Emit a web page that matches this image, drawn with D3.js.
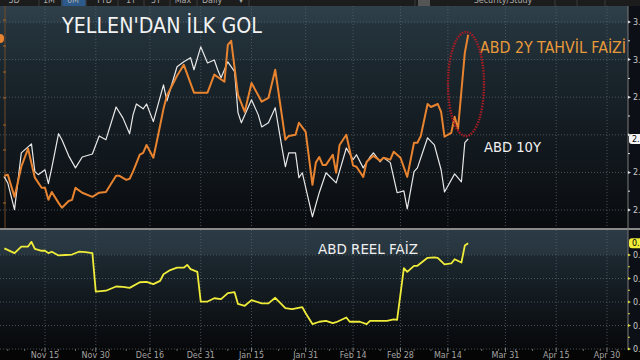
<!DOCTYPE html>
<html><head><meta charset="utf-8">
<script src="https://cdn.jsdelivr.net/npm/d3@7"></script>
<style>html,body{margin:0;padding:0;background:#000;overflow:hidden}</style>
</head><body><svg id="c" width="640" height="360"></svg>
<script>
// ---- data (MM-DD; Nov/Dec = 2016, others = 2017) ----
const tickDates  = ["11-15","11-30","12-16","12-31","01-15","01-31","02-14","02-28","03-14","03-31","04-15","04-30"];
const tickLabels = ["Nov 15","Nov 30","Dec 16","Dec 31","Jan 15","Jan 31","Feb 14","Feb 28","Mar 14","Mar 31","Apr 15","Apr 30"];
const topTicks = [2.6,2.7,2.8,2.9,3.0,3.1];
const topTickLabels = ["2.6","2.7","2.8","2.9","3.0","3.1"];
const botTicks = [0.45,0.50,0.55,0.60,0.65];
const botTickLabels = ["0.45","0.50","0.55","0.60","0.65"];

const tenYDates = ["11-03","11-04","11-06","11-08","11-11","11-12","11-13","11-15","11-16","11-17","11-19","11-20","11-22","11-24","11-26","11-29","12-01","12-03","12-06","12-08","12-10","12-11","12-12","12-14","12-15","12-17","12-20","12-21","12-24","12-26","12-28","12-29","12-31","01-02","01-04","01-05","01-06","01-08","01-10","01-11","01-12","01-15","01-17","01-18","01-20","01-22","01-24","01-25","01-26","01-28","01-29","01-30","02-02","02-04","02-06","02-09","02-12","02-14","02-15","02-17","02-19","02-20","02-22","02-23","02-25","02-27","03-01","03-02","03-04","03-05","03-08","03-10","03-12","03-13","03-16","03-18","03-19","03-20"];
const tenYValues = [2.688,2.672,2.601,2.752,2.776,2.702,2.694,2.707,2.670,2.712,2.803,2.787,2.744,2.712,2.741,2.749,2.797,2.787,2.874,2.845,2.803,2.853,2.882,2.869,2.882,2.835,2.933,2.890,2.981,2.994,3.005,2.973,3.034,2.991,2.999,2.973,2.952,2.994,2.968,2.859,2.832,2.893,2.853,2.821,2.832,2.872,2.765,2.715,2.752,2.752,2.686,2.699,2.582,2.646,2.699,2.672,2.765,2.734,2.747,2.712,2.741,2.752,2.728,2.739,2.726,2.646,2.651,2.603,2.702,2.712,2.792,2.773,2.707,2.648,2.696,2.675,2.779,2.789];

const twoYDates = ["11-03","11-04","11-06","11-08","11-10","11-12","11-14","11-15","11-16","11-17","11-19","11-20","11-22","11-23","11-24","11-26","11-29","12-01","12-03","12-06","12-07","12-09","12-10","12-11","12-13","12-14","12-15","12-17","12-18","12-20","12-21","12-24","12-26","12-29","12-30","01-02","01-04","01-07","01-08","01-09","01-11","01-13","01-15","01-18","01-20","01-22","01-25","01-26","01-28","01-29","01-31","02-02","02-03","02-04","02-05","02-06","02-08","02-09","02-10","02-12","02-14","02-15","02-17","02-18","02-20","02-22","02-23","02-25","02-26","02-28","03-02","03-04","03-05","03-06","03-08","03-09","03-11","03-12","03-13","03-15","03-16","03-17","03-19","03-20"];
const twoYValues = [2.691,2.694,2.635,2.715,2.763,2.686,2.659,2.659,2.627,2.648,2.619,2.606,2.624,2.627,2.659,2.646,2.635,2.646,2.648,2.691,2.691,2.680,2.683,2.702,2.747,2.752,2.773,2.739,2.781,2.869,2.904,2.957,2.986,2.912,2.912,2.912,2.960,2.941,3.039,3.050,2.906,2.861,2.938,2.888,2.898,2.973,2.787,2.797,2.800,2.832,2.808,2.667,2.726,2.741,2.720,2.720,2.747,2.699,2.773,2.800,2.718,2.715,2.688,2.728,2.744,2.731,2.739,2.734,2.755,2.739,2.688,2.779,2.779,2.797,2.882,2.874,2.882,2.861,2.795,2.805,2.848,2.816,3.018,3.066];

const realDates = ["11-03","11-06","11-08","11-10","11-11","11-12","11-14","11-15","11-16","11-17","11-19","11-21","11-23","11-25","11-27","11-29","11-30","12-03","12-06","12-08","12-10","12-13","12-15","12-17","12-19","12-20","12-22","12-24","12-26","12-27","12-28","12-30","12-31","01-02","01-04","01-06","01-08","01-10","01-11","01-13","01-15","01-18","01-20","01-22","01-25","01-27","01-30","01-31","02-02","02-04","02-06","02-08","02-09","02-12","02-13","02-16","02-18","02-19","02-22","02-24","02-26","02-27","03-01","03-02","03-04","03-05","03-08","03-10","03-11","03-13","03-15","03-16","03-18","03-19","03-20"];
const realValues = [0.664,0.654,0.668,0.668,0.678,0.663,0.659,0.659,0.654,0.657,0.649,0.650,0.651,0.657,0.656,0.654,0.572,0.574,0.583,0.582,0.580,0.592,0.593,0.588,0.595,0.609,0.618,0.623,0.623,0.629,0.620,0.614,0.551,0.551,0.558,0.556,0.569,0.571,0.546,0.542,0.554,0.547,0.547,0.559,0.537,0.535,0.539,0.526,0.503,0.508,0.510,0.505,0.507,0.517,0.508,0.508,0.503,0.510,0.510,0.510,0.513,0.512,0.622,0.614,0.627,0.627,0.644,0.645,0.644,0.630,0.632,0.641,0.634,0.670,0.675];

const toolbarTabs = ["5D","1M","6M","YTD","1Y","5Y","Max","Daily","\u25BE"];

// ---- helpers ----
const parseMD = s => { const [m,d] = s.split("-").map(Number); return new Date(Date.UTC(m >= 11 ? 2016 : 2017, m-1, d)); };
const zip = (ds, vs) => ds.map((d,i) => ({date: parseMD(d), v: vs[i]}));

const svg = d3.select("#c");
const FONT = "DejaVu Sans, Liberation Sans, sans-serif";

const x = d3.scaleUtc().domain([parseMD("11-15"), parseMD("04-30")]).range([45, 607]);
const yTop = d3.scaleLinear().domain([2.6, 3.1]).range([210, 22]);
const yBot = d3.scaleLinear().domain([0.45, 0.65]).range([349, 255]);

const P = {left: 0, right: 628, topY0: 6, topY1: 228, botY0: 230, botY1: 350};

const defs = svg.append("defs");
const g1 = defs.append("linearGradient").attr("id","gTop").attr("x1",0).attr("y1",0).attr("x2",0).attr("y2",1);
[[0,"#2f404a"],[0.07,"#2b3b45"],[0.08,"#24333c"],[0.24,"#1f2c34"],[0.25,"#1b272e"],[0.55,"#141c22"],[0.8,"#0e1317"],[1,"#090b0e"]]
  .forEach(s => g1.append("stop").attr("offset", s[0]).attr("stop-color", s[1]));
const g2 = defs.append("linearGradient").attr("id","gBot").attr("x1",0).attr("y1",0).attr("x2",0).attr("y2",1);
[[0,"#2b3a44"],[0.2,"#27353f"],[0.21,"#1c2830"],[0.5,"#141c22"],[1,"#07080a"]]
  .forEach(s => g2.append("stop").attr("offset", s[0]).attr("stop-color", s[1]));
defs.append("clipPath").attr("id","cTop").append("rect").attr("x",0).attr("y",P.topY0).attr("width",P.right).attr("height",P.topY1-P.topY0);
defs.append("clipPath").attr("id","cBot").append("rect").attr("x",0).attr("y",P.botY0).attr("width",P.right).attr("height",P.botY1-P.botY0);

// background
svg.append("rect").attr("width",640).attr("height",360).attr("fill","#050505");
svg.append("rect").attr("x",0).attr("y",P.topY0).attr("width",P.right).attr("height",P.topY1-P.topY0).attr("fill","url(#gTop)");
svg.append("rect").attr("x",0).attr("y",P.botY0).attr("width",P.right).attr("height",P.botY1-P.botY0).attr("fill","url(#gBot)");
svg.append("rect").attr("x",P.right).attr("y",P.topY0).attr("width",12).attr("height",P.botY1-P.topY0).attr("fill","#0c1016");

// toolbar
svg.append("rect").attr("x",0).attr("y",0).attr("width",640).attr("height",6).attr("fill","#1c1c1c");
svg.append("rect").attr("x",61).attr("y",0).attr("width",25).attr("height",6).attr("fill","#2d5a8c");
svg.append("rect").attr("x",418).attr("y",0).attr("width",12).attr("height",6).attr("fill","#555");
const tabX = [14,49,73,104,131,156,183,212,241];
[39,62,86,118,144,170,197,249,415,555,577,605].forEach(v => svg.append("line").attr("x1",v).attr("x2",v).attr("y1",0).attr("y2",6).attr("stroke","#3a3a3a"));
toolbarTabs.forEach((t,i) => svg.append("text").attr("x",tabX[i]).attr("y",2.5).attr("text-anchor","middle").attr("font-family",FONT).attr("font-size",8).attr("fill","#aaa").text(t));
svg.append("text").attr("x",503).attr("y",2.5).attr("text-anchor","middle").attr("font-family",FONT).attr("font-size",8).attr("fill","#aaa").text("Security/Study");

// grid
const grid = svg.append("g").attr("stroke","#56626c").attr("stroke-width",0.8).attr("stroke-dasharray","1,2");
tickDates.forEach(d => {
  const xx = x(parseMD(d));
  grid.append("line").attr("x1",xx).attr("x2",xx).attr("y1",P.topY0).attr("y2",P.topY1);
  grid.append("line").attr("x1",xx).attr("x2",xx).attr("y1",P.botY0).attr("y2",P.botY1);
});
topTicks.forEach(v => grid.append("line").attr("x1",0).attr("x2",P.right).attr("y1",yTop(v)).attr("y2",yTop(v)));
botTicks.forEach(v => grid.append("line").attr("x1",0).attr("x2",P.right).attr("y1",yBot(v)).attr("y2",yBot(v)));

// panel separator
svg.append("rect").attr("x",0).attr("y",P.topY1).attr("width",640).attr("height",2).attr("fill","#8a8a8a");

// left orange axis
svg.append("line").attr("x1",5).attr("x2",5).attr("y1",P.topY0).attr("y2",P.topY1).attr("stroke","#6e4a28").attr("stroke-width",1);
[20,46,72,98,125,150,177,203].forEach(v => svg.append("line").attr("x1",3).attr("x2",6).attr("y1",v).attr("y2",v).attr("stroke","#a8682a"));
svg.append("rect").attr("x",-6).attr("y",34).attr("width",10).attr("height",9).attr("rx",4).attr("fill","#e8832f");

// lines
const lineTop = d3.line().x(d => x(d.date)).y(d => yTop(d.v));
const lineBot = d3.line().x(d => x(d.date)).y(d => yBot(d.v));
const gT = svg.append("g").attr("clip-path","url(#cTop)");
gT.append("path").datum(zip(tenYDates, tenYValues)).attr("d", lineTop).attr("fill","none").attr("stroke","#e8e8e8").attr("stroke-width",1.2).attr("stroke-linejoin","round");
gT.append("path").datum(zip(twoYDates, twoYValues)).attr("d", lineTop).attr("fill","none").attr("stroke","#e8832f").attr("stroke-width",2).attr("stroke-linejoin","round");
const gB = svg.append("g").attr("clip-path","url(#cBot)");
gB.append("path").datum(zip(realDates, realValues)).attr("d", lineBot).attr("fill","none").attr("stroke","#f0ec3a").attr("stroke-width",1.8).attr("stroke-linejoin","round");

// right axes
const lastTen = tenYValues[tenYValues.length-1], lastReal = realValues[realValues.length-1];
svg.append("line").attr("x1",P.right).attr("x2",P.right).attr("y1",P.topY0).attr("y2",P.botY1).attr("stroke","#7a7a7a");
const rA = svg.append("g");
function rightAxis(scale, ticks, labels, col, lastY) {
  ticks.forEach((v,i) => {
    const yy = scale(v);
    rA.append("path").attr("d", `M${P.right},${yy-1.5}L${P.right+3},${yy}L${P.right},${yy+1.5}Z`).attr("fill", col);
    if (Math.abs(yy - lastY) > 9)
      rA.append("text").attr("x",P.right+5).attr("y",yy+3).attr("font-family",FONT).attr("font-size",8).attr("fill","#c8c8c8").text(labels[i]);
    if (i < ticks.length-1) {
      const ym = (scale(v) + scale(ticks[i+1]))/2;
      rA.append("line").attr("x1",P.right).attr("x2",P.right+2).attr("y1",ym).attr("y2",ym).attr("stroke",col);
    }
  });
}
rightAxis(yTop, topTicks, topTickLabels, "#dddddd", yTop(lastTen));
rightAxis(yBot, botTicks, botTickLabels, "#d8d440", yBot(lastReal));
// last value markers
svg.append("rect").attr("x",P.right+1).attr("y",yTop(lastTen)-5).attr("width",20).attr("height",10).attr("rx",3).attr("fill","#f4f4f4");
svg.append("text").attr("x",P.right+4).attr("y",yTop(lastTen)+3).attr("font-family",FONT).attr("font-size",8).attr("fill","#000").text(lastTen.toFixed(2));
svg.append("rect").attr("x",P.right+1).attr("y",yBot(lastReal)-5).attr("width",20).attr("height",10).attr("rx",3).attr("fill","#f0ec3a");
svg.append("text").attr("x",P.right+4).attr("y",yBot(lastReal)+3).attr("font-family",FONT).attr("font-size",8).attr("fill","#000").text(lastReal.toFixed(2));

// x axis
const xa = svg.append("g");
d3.utcDay.range(parseMD("11-04"), parseMD("05-06"), 5).forEach(d => {
  xa.append("line").attr("x1",x(d)).attr("x2",x(d)).attr("y1",P.botY1-1).attr("y2",P.botY1+1).attr("stroke","#666");
});
tickDates.forEach((d,i) => {
  const xx = x(parseMD(d));
  xa.append("line").attr("x1",xx).attr("x2",xx).attr("y1",P.botY1-2).attr("y2",P.botY1+2).attr("stroke","#888");
  xa.append("text").attr("x",xx).attr("y",358).attr("text-anchor","middle").attr("font-family",FONT).attr("font-size",8).attr("fill","#a4a4a4").text(tickLabels[i]);
});

// annotations
svg.append("text").attr("x",62).attr("y",33).attr("font-family",FONT).attr("font-size",22).attr("fill","#f2f2f2")
  .attr("textLength",200).attr("lengthAdjust","spacingAndGlyphs").text("YELLEN'DAN İLK GOL");
svg.append("text").attr("x",480).attr("y",53).attr("font-family",FONT).attr("font-size",16).attr("fill","#e99a3a")
  .attr("textLength",146).attr("lengthAdjust","spacingAndGlyphs").text("ABD 2Y TAHVİL FAİZİ");
svg.append("text").attr("x",484).attr("y",152).attr("font-family",FONT).attr("font-size",14.5).attr("fill","#f2f2f2")
  .attr("textLength",57).attr("lengthAdjust","spacingAndGlyphs").text("ABD 10Y");
svg.append("text").attr("x",318).attr("y",254).attr("font-family",FONT).attr("font-size",14).attr("fill","#f0f0f0")
  .attr("textLength",100).attr("lengthAdjust","spacingAndGlyphs").text("ABD REEL FAİZ");
svg.append("ellipse").attr("cx",466).attr("cy",84).attr("rx",18).attr("ry",52).attr("fill","none")
  .attr("stroke","#a81c24").attr("stroke-width",2.4).attr("stroke-dasharray","1.5,1.2");
</script>
</body></html>
